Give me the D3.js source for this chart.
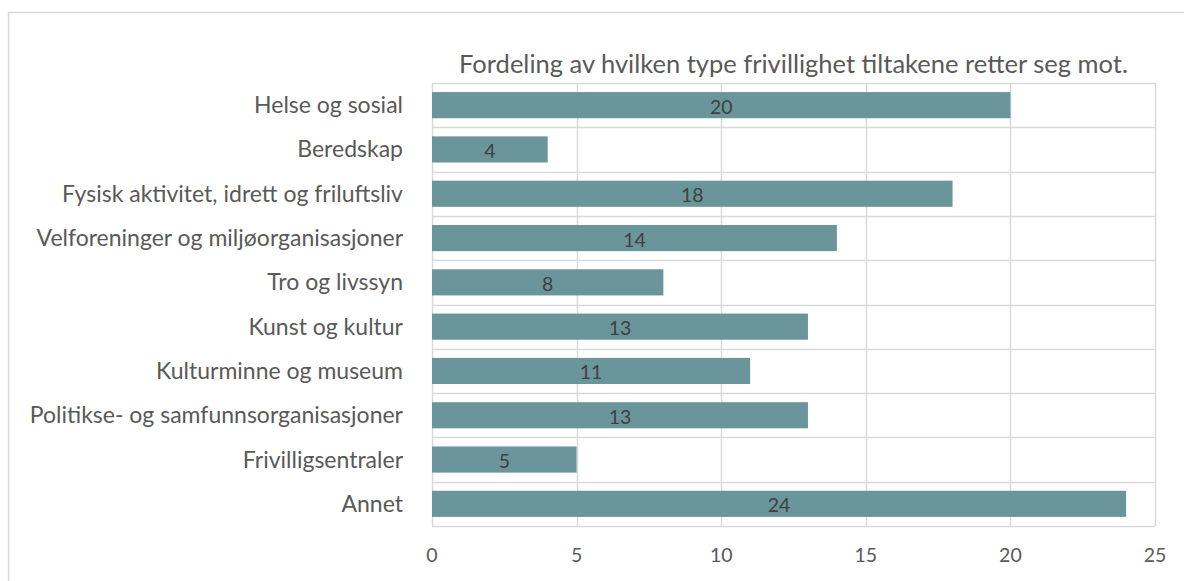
<!DOCTYPE html>
<html>
<head>
<meta charset="utf-8">
<script src="https://cdn.jsdelivr.net/npm/d3@7"></script>
<style>
  body { margin: 0; background: #fff; }
  svg text { font-family: Lato, "Noto Sans", sans-serif; }
</style>
</head>
<body>
<svg id="chart" width="1184" height="581"></svg>
<script>
const categories = [
  "Helse og sosial",
  "Beredskap",
  "Fysisk aktivitet, idrett og friluftsliv",
  "Velforeninger og miljøorganisasjoner",
  "Tro og livssyn",
  "Kunst og kultur",
  "Kulturminne og museum",
  "Politikse- og samfunnsorganisasjoner",
  "Frivilligsentraler",
  "Annet"
];
const values = [20, 4, 18, 14, 8, 13, 11, 13, 5, 24];
const xTicks = [0, 5, 10, 15, 20, 25];
const title = "Fordeling av hvilken type frivillighet tiltakene retter seg mot.";

const svg = d3.select("#chart");
const margin = { top: 83, right: 29, bottom: 55, left: 432 };
const width = 1184 - margin.left - margin.right;
const height = 581 - margin.top - margin.bottom;

// outer chart frame (cut off on right and bottom)
svg.append("path")
  .attr("d", "M8.5,581 V12.5 H1184")
  .attr("fill", "none")
  .attr("stroke", "#d9d9d9")
  .attr("stroke-width", 1.5);

const x = d3.scaleLinear().domain([0, 25]).range([0, width]);
const y = d3.scaleBand().domain(categories).range([0, height]).paddingInner(0.41).paddingOuter(0.205);
const step = y.step();

const g = svg.append("g").attr("transform", `translate(${margin.left},${margin.top})`);

// vertical gridlines
g.selectAll(".vgrid").data(xTicks).enter().append("line")
  .attr("x1", d => Math.round(x(d)) + 0.5).attr("x2", d => Math.round(x(d)) + 0.5)
  .attr("y1", 0).attr("y2", height)
  .attr("stroke", "#d9d9d9").attr("stroke-width", 1.5);

// horizontal gridlines at category boundaries
g.selectAll(".hgrid").data(d3.range(categories.length + 1)).enter().append("line")
  .attr("x1", 0).attr("x2", width)
  .attr("y1", d => Math.round(d * step) + 0.5).attr("y2", d => Math.round(d * step) + 0.5)
  .attr("stroke", "#d9d9d9").attr("stroke-width", 1.5);

// bars
g.selectAll(".bar").data(values).enter().append("rect")
  .attr("x", x(0))
  .attr("y", (d, i) => y(categories[i]))
  .attr("width", d => x(d))
  .attr("height", y.bandwidth())
  .attr("fill", "#6a959b");

// value labels
g.selectAll(".val").data(values).enter().append("text")
  .attr("x", d => x(d) / 2)
  .attr("y", (d, i) => y(categories[i]) + y.bandwidth() / 2 + 8.5)
  .attr("text-anchor", "middle")
  .attr("font-size", 19.5)
  .attr("fill", "#404040")
  .text(d => d);

// category labels
g.selectAll(".cat").data(categories).enter().append("text")
  .attr("x", -29)
  .attr("y", d => y(d) + y.bandwidth() / 2 + 8)
  .attr("text-anchor", "end")
  .attr("font-size", 23)
  .attr("fill", "#595959")
  .text(d => d);

// x tick labels
g.selectAll(".xt").data(xTicks).enter().append("text")
  .attr("x", d => x(d))
  .attr("y", height + 36)
  .attr("text-anchor", "middle")
  .attr("font-size", 19.5)
  .attr("fill", "#595959")
  .text(d => d);

// title
svg.append("text")
  .attr("x", margin.left + width / 2)
  .attr("y", 73)
  .attr("text-anchor", "middle")
  .attr("font-size", 25.5)
  .attr("fill", "#595959")
  .text(title);
</script>
</body>
</html>
